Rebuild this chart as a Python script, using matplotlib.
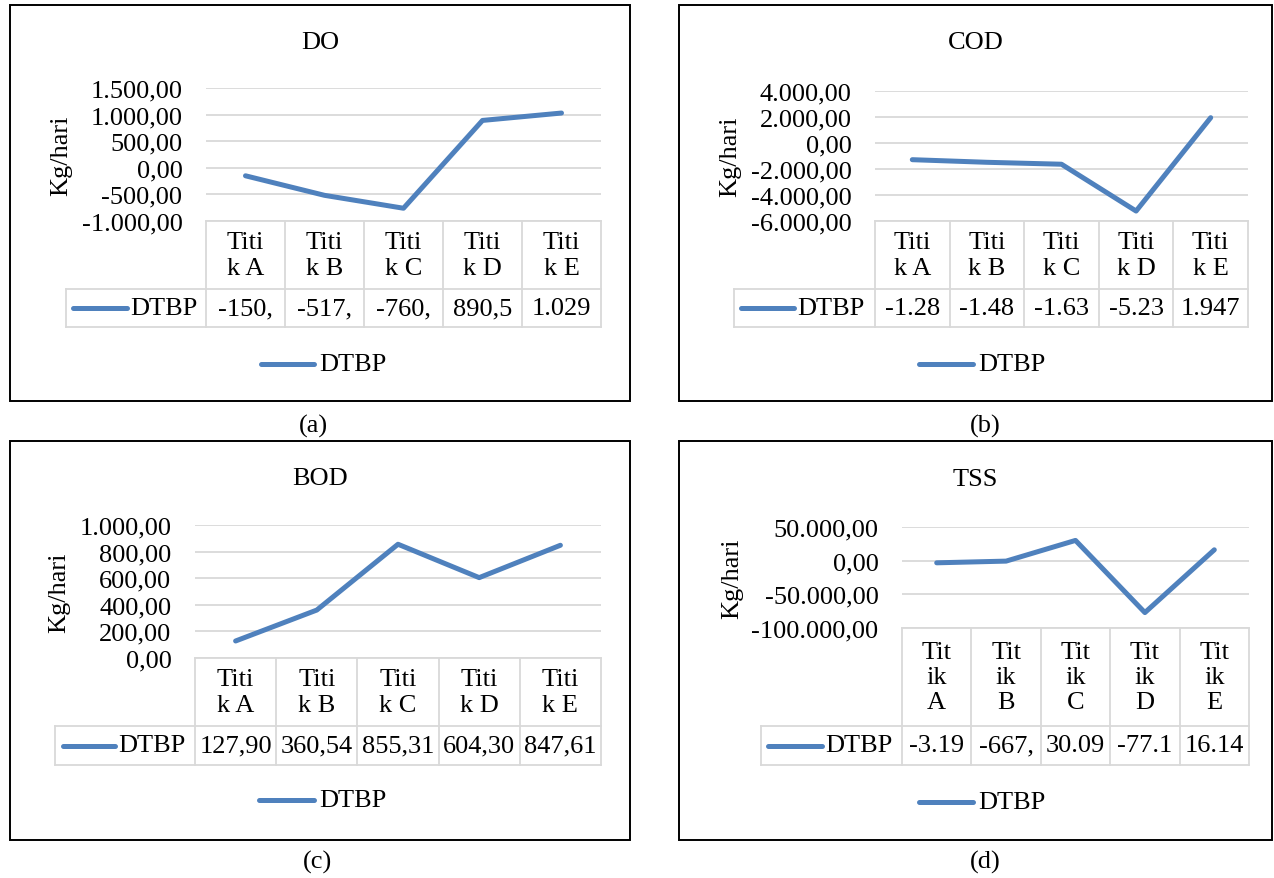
import textwrap
import matplotlib
matplotlib.use('Agg')
import matplotlib.pyplot as plt
from matplotlib.lines import Line2D
from matplotlib.patches import Rectangle
from matplotlib.ticker import FuncFormatter

plt.rcParams['font.family'] = ['Liberation Serif', 'DejaVu Serif']

W, H = 1274, 879
BLUE = '#4F81BD'
GRID = '#D9D9D9'
FS = 19

# data
categories = ['Titik A', 'Titik B', 'Titik C', 'Titik D', 'Titik E']
series_name = 'DTBP'
ylabel = 'Kg/hari'
titles = ['DO', 'COD', 'BOD', 'TSS']
captions = ['(a)', '(b)', '(c)', '(d)']

do_vals = [-150.23, -517.42, -760.18, 890.52, 1029.36]
cod_vals = [-1283.5, -1484.2, -1632.7, -5234.1, 1947.3]
bod_vals = [127.90, 360.54, 855.31, 604.30, 847.61]
tss_vals = [-3190.4, -667.2, 30090.5, -77100.3, 16140.8]

do_ticks = [-1000, -500, 0, 500, 1000, 1500]
cod_ticks = [-6000, -4000, -2000, 0, 2000, 4000]
bod_ticks = [0, 200, 400, 600, 800, 1000]
tss_ticks = [-100000, -50000, 0, 50000]

# pixel geometry of each panel
panels = [
    dict(vals=do_vals, ticks=do_ticks, box=(10, 6, 630, 402), x0=206, x1=601, ytop=89, ybot=222,
         hbot=290, dbot=328, dleft=66, key=(73, 127), leg_y=365, leg=(261, 314), title_y=43,
         ylab_x=61, cap_xy=(313, 426), wrap=4, cut=5),
    dict(vals=cod_vals, ticks=cod_ticks, box=(679, 6, 1272, 402), x0=875, x1=1248, ytop=92, ybot=222,
         hbot=290, dbot=328, dleft=734, key=(741, 794), leg_y=365, leg=(919, 973), title_y=43,
         ylab_x=730, cap_xy=(985, 426), wrap=4, cut=5),
    dict(vals=bod_vals, ticks=bod_ticks, box=(10, 442, 630, 841), x0=195, x1=601, ytop=526, ybot=659,
         hbot=727, dbot=766, dleft=55, key=(63, 115), leg_y=801, leg=(259, 314), title_y=479,
         ylab_x=59, cap_xy=(318, 862), wrap=4, cut=6),
    dict(vals=tss_vals, ticks=tss_ticks, box=(679, 442, 1272, 841), x0=902, x1=1249, ytop=528, ybot=629,
         hbot=727, dbot=766, dleft=761, key=(768, 822), leg_y=803, leg=(919, 973), title_y=480,
         ylab_x=732, cap_xy=(985, 862), wrap=3, cut=5),
]


def fx(x):
    return x / W


def fy(y):
    return 1 - y / H


def id_fmt(v, pos=None):
    s = f'{v:,.2f}'
    return s.replace(',', '#').replace('.', ',').replace('#', '.')


def hline(fig, xa, xb, y, **kw):
    fig.add_artist(Line2D([fx(xa), fx(xb)], [fy(y), fy(y)], **kw))


def vline(fig, x, ya, yb, **kw):
    fig.add_artist(Line2D([fx(x), fx(x)], [fy(ya), fy(yb)], **kw))


fig = plt.figure(figsize=(W / 100, H / 100), dpi=100)

for p, title, cap in zip(panels, titles, captions):
    bx0, by0, bx1, by1 = p['box']
    fig.add_artist(Rectangle((fx(bx0), fy(by1)), (bx1 - bx0) / W, (by1 - by0) / H,
                             fill=False, ec='black', lw=1.4, transform=fig.transFigure))

    x0, x1, ytop, ybot = p['x0'], p['x1'], p['ytop'], p['ybot']
    ax = fig.add_axes([fx(x0), fy(ybot), (x1 - x0) / W, (ybot - ytop) / H])
    ax.plot(range(len(categories)), p['vals'], color=BLUE, lw=3.6,
            solid_capstyle='round', solid_joinstyle='round', clip_on=False)
    ax.set_xlim(-0.5, len(categories) - 0.5)
    ax.set_ylim(p['ticks'][0], p['ticks'][-1])
    ax.set_yticks(p['ticks'])
    ax.yaxis.set_major_formatter(FuncFormatter(id_fmt))
    ax.set_xticks([])
    ax.yaxis.grid(True, color=GRID, lw=1.3)
    ax.set_axisbelow(True)
    for s in ax.spines.values():
        s.set_visible(False)
    ax.tick_params(axis='y', length=0, pad=17, labelsize=FS)
    ax.patch.set_alpha(0)

    fig.text(fx((bx0 + bx1) / 2), fy(p['title_y']), title, ha='center', va='center', fontsize=FS)
    fig.text(fx(p['ylab_x']), fy((ytop + ybot) / 2), ylabel, rotation=90,
             ha='center', va='center', fontsize=FS)
    cx_, cy_ = p['cap_xy']
    fig.text(fx(cx_), fy(cy_), cap, ha='center', va='center', fontsize=FS)

    # data table below the plot
    n = len(categories)
    colw = (x1 - x0) / n
    lkw = dict(color=GRID, lw=1.3)
    hline(fig, x0, x1, ybot, **lkw)
    hline(fig, p['dleft'], x1, p['hbot'], **lkw)
    hline(fig, p['dleft'], x1, p['dbot'], **lkw)
    vline(fig, p['dleft'], p['hbot'], p['dbot'], **lkw)
    for i in range(n + 1):
        vline(fig, x0 + i * colw, ybot, p['dbot'], **lkw)
    hy = (ybot + p['hbot']) / 2
    dy = (p['hbot'] + p['dbot']) / 2
    for i, (cat, v) in enumerate(zip(categories, p['vals'])):
        cx = x0 + (i + 0.5) * colw
        head = '\n'.join(textwrap.wrap(cat, p['wrap']))
        fig.text(fx(cx), fy(hy), head, ha='center', va='center', fontsize=FS, linespacing=1.2)
        fig.text(fx(cx), fy(dy), id_fmt(v)[:p['cut']], ha='center', va='center', fontsize=FS)
    ka, kb = p['key']
    hline(fig, ka, kb, dy, color=BLUE, lw=3.6, solid_capstyle='round')
    fig.text(fx(kb + 3), fy(dy), series_name, ha='left', va='center', fontsize=FS)

    # legend
    la, lb = p['leg']
    hline(fig, la, lb, p['leg_y'], color=BLUE, lw=3.6, solid_capstyle='round')
    fig.text(fx(lb + 5), fy(p['leg_y']), series_name, ha='left', va='center', fontsize=FS)

fig.savefig('out.png', dpi=100)
